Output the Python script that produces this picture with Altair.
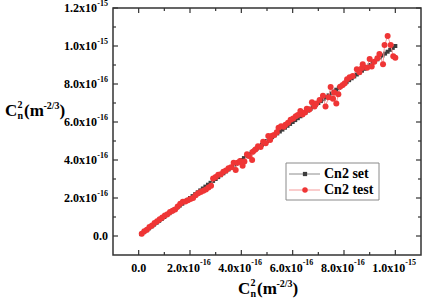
import altair as alt
import pandas as pd

# ---------------- data (units of 1e-16 m^-2/3) ----------------
UNIT = 1e-16
set_vals = [0.1, 0.2, 0.3, 0.4, 0.5, 0.6, 0.7, 0.8, 0.9, 1.0,
            1.1, 1.2, 1.3, 1.4, 1.5, 1.6, 1.7, 1.8, 1.9, 2.0,
            2.1, 2.2, 2.3, 2.4, 2.5, 2.6, 2.7, 2.8, 2.9, 3.0,
            3.1, 3.2, 3.3, 3.4, 3.5, 3.6, 3.7, 3.8, 3.9, 4.0,
            4.1, 4.2, 4.3, 4.4, 4.5, 4.6, 4.7, 4.8, 4.9, 5.0,
            5.1, 5.2, 5.3, 5.4, 5.5, 5.6, 5.7, 5.8, 5.9, 6.0,
            6.1, 6.2, 6.3, 6.4, 6.5, 6.6, 6.7, 6.8, 6.9, 7.0,
            7.1, 7.2, 7.3, 7.4, 7.5, 7.6, 7.7, 7.8, 7.9, 8.0,
            8.1, 8.2, 8.3, 8.4, 8.5, 8.6, 8.7, 8.8, 8.9, 9.0,
            9.1, 9.2, 9.3, 9.4, 9.5, 9.6, 9.7, 9.8, 9.9, 10.0]

test_x = [0.12, 0.22, 0.32, 0.42, 0.52, 0.62, 0.72, 0.82, 0.92, 1.02,
          1.12, 1.22, 1.32, 1.42, 1.52, 1.62, 1.72, 1.82, 1.92, 2.02,
          2.12, 2.22, 2.32, 2.42, 2.52, 2.62, 2.72, 2.82, 2.90, 3.00,
          3.10, 3.20, 3.30, 3.40, 3.50, 3.60, 3.70, 3.78, 3.85, 3.95,
          4.05, 4.12, 4.22, 4.30, 4.42, 4.45, 4.55, 4.65, 4.75, 4.85,
          4.95, 5.05, 5.12, 5.20, 5.28, 5.38, 5.45, 5.55, 5.65, 5.72,
          5.82, 5.92, 6.02, 6.12, 6.20, 6.30, 6.38, 6.48, 6.55, 6.65,
          6.75, 6.85, 6.92, 7.05, 7.18, 7.28, 7.40, 7.48, 7.57, 7.62,
          7.70, 7.78, 7.85, 7.95, 8.03, 8.12, 8.22, 8.34, 8.50, 8.60,
          8.70, 8.73, 8.90, 9.00, 9.08, 9.18, 9.30, 9.38, 9.52, 9.58,
          9.70, 9.82, 9.92, 10.00]
test_y = [0.12, 0.25, 0.33, 0.47, 0.55, 0.68, 0.78, 0.88, 0.97, 1.08,
          1.15, 1.26, 1.33, 1.40, 1.55, 1.70, 1.80, 1.82, 1.88, 1.95,
          2.00, 2.15, 2.25, 2.32, 2.38, 2.45, 2.55, 2.65, 3.02, 3.10,
          3.22, 3.25, 3.38, 3.45, 3.56, 3.62, 3.86, 3.48, 3.86, 3.95,
          3.70, 3.92, 4.30, 4.21, 4.00, 4.44, 4.55, 4.72, 4.68, 4.96,
          4.88, 5.26, 5.05, 5.28, 5.32, 5.46, 5.70, 5.78, 5.75, 5.86,
          5.96, 6.12, 6.18, 6.30, 6.37, 6.58, 6.40, 6.50, 6.70, 6.66,
          7.04, 6.82, 6.98, 7.16, 7.38, 6.82, 7.30, 7.84, 7.22, 7.55,
          6.98, 7.46, 7.86, 7.95, 8.04, 8.25, 8.35, 8.42, 8.77, 8.62,
          8.84, 9.04, 8.86, 9.32, 8.92, 9.17, 9.36, 9.58, 9.04, 10.05,
          10.53, 10.05, 9.46, 9.38]

x_major = [0, 2, 4, 6, 8, 10]
x_minor = [1, 3, 5, 7, 9]
y_major = [0, 2, 4, 6, 8, 10, 12]
y_minor = [1, 3, 5, 7, 9, 11]
x_label_base = ["0.0", "2.0x10", "4.0x10", "6.0x10", "8.0x10", "1.0x10"]
x_label_exp = ["", "-16", "-16", "-16", "-16", "-15"]
y_label_base = ["0.0", "2.0x10", "4.0x10", "6.0x10", "8.0x10", "1.0x10", "1.2x10"]
y_label_exp = ["", "-16", "-16", "-16", "-16", "-15", "-15"]
series_names = ["Cn2 set", "Cn2 test"]

# ---------------- tables ----------------
set_df = pd.DataFrame({"x": [v * UNIT for v in set_vals], "y": [v * UNIT for v in set_vals]})
test_df = pd.DataFrame({"x": [v * UNIT for v in test_x], "y": [v * UNIT for v in test_y]})
xlab_df = pd.DataFrame({"v": [v * UNIT for v in x_major], "base": x_label_base, "exp": x_label_exp})
ylab_df = pd.DataFrame({"v": [v * UNIT for v in y_major], "base": y_label_base, "exp": y_label_exp})
xmaj_df = pd.DataFrame({"v": [v * UNIT for v in x_major]})
xmin_df = pd.DataFrame({"v": [v * UNIT for v in x_minor]})
ymaj_df = pd.DataFrame({"v": [v * UNIT for v in y_major]})
ymin_df = pd.DataFrame({"v": [v * UNIT for v in y_minor]})
one = pd.DataFrame({"a": [0]})

W, H = 308, 247
FONT = "Liberation Serif"
SET_COLOR = "#3d3d3d"
SET_LINE = "#8c8c8c"
TEST_COLOR = "#ef3535"
TEST_LINE = "#f59a9a"

xs = alt.Scale(domain=[-1 * UNIT, 11 * UNIT], nice=False, zero=False)
ys = alt.Scale(domain=[-1 * UNIT, 12 * UNIT], nice=False, zero=False)

def X(f):
    return alt.X(f, type="quantitative", scale=xs, axis=None)

def Y(f):
    return alt.Y(f, type="quantitative", scale=ys, axis=None)

# ---------------- series ----------------
set_line = alt.Chart(set_df).mark_line(color=SET_LINE, strokeWidth=1).encode(x=X("x"), y=Y("y"))
set_pts = alt.Chart(set_df).mark_point(shape="square", filled=True, size=16, color=SET_COLOR, opacity=1).encode(x=X("x"), y=Y("y"))
test_line = alt.Chart(test_df).mark_line(color=TEST_LINE, strokeWidth=1).encode(x=X("x"), y=Y("y"))
test_pts = alt.Chart(test_df).mark_circle(size=36, color=TEST_COLOR, opacity=1).encode(x=X("x"), y=Y("y"))

# ---------------- ticks (inward, all four sides) ----------------
TK = "#333333"
def xticks(df, length):
    b = alt.Chart(df).mark_rule(color=TK, strokeWidth=1.2).encode(x=X("v"), y=alt.value(H), y2=alt.value(H - length))
    t = alt.Chart(df).mark_rule(color=TK, strokeWidth=1.2).encode(x=X("v"), y=alt.value(0), y2=alt.value(length))
    return [b, t]

def yticks(df, length):
    l = alt.Chart(df).mark_rule(color=TK, strokeWidth=1.2).encode(y=Y("v"), x=alt.value(0), x2=alt.value(length))
    r = alt.Chart(df).mark_rule(color=TK, strokeWidth=1.2).encode(y=Y("v"), x=alt.value(W), x2=alt.value(W - length))
    return [l, r]

ticks = xticks(xmaj_df, 5) + xticks(xmin_df, 3) + yticks(ymaj_df, 5) + yticks(ymin_df, 3)

# ---------------- tick labels ----------------
LS = 12
ES = 8
xl_base = alt.Chart(xlab_df).transform_filter("datum.exp != ''").mark_text(
    font=FONT, fontWeight="bold", fontSize=LS, align="right", baseline="middle", dx=10, color="black"
).encode(x=X("v"), y=alt.value(H + 13), text="base:N")
xl_exp = alt.Chart(xlab_df).transform_filter("datum.exp != ''").mark_text(
    font=FONT, fontWeight="bold", fontSize=ES, align="left", baseline="middle", dx=10, color="black"
).encode(x=X("v"), y=alt.value(H + 8), text="exp:N")
xl_zero = alt.Chart(xlab_df).transform_filter("datum.exp == ''").mark_text(
    font=FONT, fontWeight="bold", fontSize=LS, align="center", baseline="middle", color="black"
).encode(x=X("v"), y=alt.value(H + 13), text="base:N")

yl_base = alt.Chart(ylab_df).transform_filter("datum.exp != ''").mark_text(
    font=FONT, fontWeight="bold", fontSize=LS, align="right", baseline="middle", color="black"
).encode(y=Y("v"), x=alt.value(-16), text="base:N")
yl_exp = alt.Chart(ylab_df).transform_filter("datum.exp != ''").mark_text(
    font=FONT, fontWeight="bold", fontSize=ES, align="right", baseline="middle", dy=-4, color="black"
).encode(y=Y("v"), x=alt.value(-5), text="exp:N")
yl_zero = alt.Chart(ylab_df).transform_filter("datum.exp == ''").mark_text(
    font=FONT, fontWeight="bold", fontSize=LS, align="right", baseline="middle", color="black"
).encode(y=Y("v"), x=alt.value(-5), text="base:N")

# ---------------- axis titles  C^2_n (m^-2/3) ----------------
TS = 17
SS = 10
def title_pieces(x0, base):
    parts = [
        ("C", TS, x0, base),
        ("2", SS, x0 + 12.5, base - 8),
        ("n", SS, x0 + 12.5, base + 2.5),
        ("(m", TS, x0 + 19, base),
        ("-2/3", 10, x0 + 38.5, base - 7),
        (")", TS, x0 + 54.5, base),
    ]
    out = []
    for txt, fs, px, py in parts:
        out.append(
            alt.Chart(one).mark_text(text=txt, font=FONT, fontWeight="bold", fontSize=fs,
                                     align="left", baseline="alphabetic", color="black")
            .encode(x=alt.value(px), y=alt.value(py))
        )
    return out

ytitle = title_pieces(-108, 108)
xtitle = title_pieces(125, 286)

# ---------------- legend ----------------
LX0, LX1, LY0, LY1 = 173, 266, 155, 192
leg_box = alt.Chart(one).mark_rect(fill="white", stroke="#8a8a8a", strokeWidth=1).encode(
    x=alt.value(LX0), x2=alt.value(LX1), y=alt.value(LY0), y2=alt.value(LY1))
leg = [leg_box]
rows = [(series_names[0], SET_LINE, SET_COLOR, "square", 166), (series_names[1], TEST_LINE, TEST_COLOR, "circle", 182)]
for name, lc, pc, shp, ry in rows:
    leg.append(alt.Chart(one).mark_rule(color=lc, strokeWidth=1).encode(
        x=alt.value(176), x2=alt.value(207), y=alt.value(ry)))
    leg.append(alt.Chart(one).mark_point(shape=shp, filled=True, size=18 if shp == "square" else 30,
                                         color=pc, opacity=1).encode(x=alt.value(192), y=alt.value(ry)))
    leg.append(alt.Chart(pd.DataFrame({"name": [name]})).mark_text(
        font=FONT, fontWeight="bold", fontSize=14, align="left", baseline="middle", color="black"
    ).encode(x=alt.value(211), y=alt.value(ry), text="name:N"))

chart = alt.layer(
    set_line, set_pts, test_line, test_pts,
    *ticks,
    xl_base, xl_exp, xl_zero, yl_base, yl_exp, yl_zero,
    *ytitle, *xtitle, *leg
).properties(
    width=W, height=H,
    padding={"left": 113, "top": 8, "right": 4, "bottom": 44},
    autosize=alt.AutoSizeParams(type="none"),
    background="white",
).configure_view(stroke="#333333", strokeWidth=1.5)

chart.save("out.html", embed_options={"renderer": "svg", "actions": False})
